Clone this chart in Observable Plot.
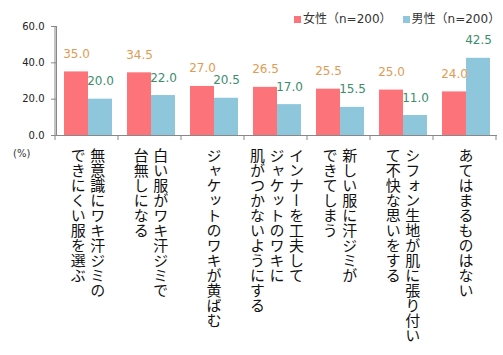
<!DOCTYPE html>
<html><head><meta charset="utf-8">
<script src="https://cdn.jsdelivr.net/npm/d3@7"></script>
<script src="https://cdn.jsdelivr.net/npm/@observablehq/plot@0.6"></script>
<style>
body{margin:0;background:#fff;}
#wrap{position:relative;width:503px;height:355px;font-family:"DejaVu Sans","Noto Sans CJK JP",sans-serif;}
#wrap svg{display:block;}
#legend{position:absolute;left:294px;top:12px;display:flex;align-items:center;font-size:12px;color:#333;white-space:nowrap;line-height:14px;}
#legend .item{display:flex;align-items:center;margin-right:11px;}
#legend .sw{display:inline-block;width:7px;height:7px;margin-right:2px;}
#unit{position:absolute;left:13px;top:148px;font-size:10px;color:#333;}
g[aria-label^="y-axis"] text{fill:#222;}
text.vlabel{writing-mode:vertical-rl;text-orientation:mixed;}
</style></head>
<body><div id="wrap"><div id="legend"></div><div id="unit">(%)</div></div>
<script>
const categoryLines = [
  ["無意識にワキ汗ジミの", "できにくい服を選ぶ"],
  ["白い服がワキ汗ジミで", "台無しになる"],
  ["ジャケットのワキが黄ばむ"],
  ["インナーを工夫して", "ジャケットのワキに", "肌がつかないようにする"],
  ["新しい服に汗ジミが", "できてしまう"],
  ["シフォン生地が肌に張り付い", "て不快な思いをする"],
  ["あてはまるものはない"]
];
const categories = categoryLines.map(l => l.join(""));
const seriesKeys = ["女性", "男性"];
const seriesLabels = ["女性（n=200）", "男性（n=200）"];
const female = [35.0, 34.5, 27.0, 26.5, 25.5, 25.0, 24.0];
const male = [20.0, 22.0, 20.5, 17.0, 15.5, 11.0, 42.5];
const yTicks = [0, 20, 40, 60];
const barColors = ["#fc7479", "#8ec7db"];
const labelColors = ["#df9b52", "#3b8d6d"];

const table = [];
categories.forEach((c, i) => {
  table.push({category: c, series: seriesKeys[0], value: female[i]});
  table.push({category: c, series: seriesKeys[1], value: male[i]});
});

const lineGap = 19.5;
const labelRows = categories.flatMap((c, ci) => categoryLines[ci].map((t, i) => ({
  category: c, text: t, off: ((categoryLines[ci].length - 1) / 2 - i) * lineGap
})));
const labelMarks = d3.groups(labelRows, d => d.off).map(([off, rows]) => Plot.text(rows, {
  fx: "category", text: "text", frameAnchor: "bottom", dx: off, dy: 12,
  textAnchor: "start", fontSize: 15, fill: "#111",
  fontFamily: "'Noto Sans CJK JP', sans-serif", ariaDescription: "category-label"
}));

const valueMark = (k) => Plot.text(table.filter(d => d.series === seriesKeys[k]), {
  fx: "category", x: "series", y: "value", text: d => d.value.toFixed(1),
  fill: labelColors[k], lineAnchor: "bottom", dy: -14, fontSize: 12
});

const plot = Plot.plot({
  width: 503, height: 355,
  marginTop: 26, marginBottom: 220, marginLeft: 55, marginRight: 5,
  style: {fontFamily: "'DejaVu Sans','Noto Sans CJK JP',sans-serif", fontSize: "10px", color: "#888", background: "transparent"},
  fx: {domain: categories, padding: 0, axis: null},
  x: {domain: seriesKeys, paddingInner: 0, paddingOuter: 0.27, axis: null},
  y: {domain: [0, 60], ticks: yTicks, tickFormat: d => d.toFixed(1), tickSize: 5, tickPadding: 7, line: true, label: null},
  color: {domain: seriesKeys, range: barColors},
  marks: [
    Plot.barY(table, {fx: "category", x: "series", y: "value", fill: "series"}),
    Plot.ruleY([0], {stroke: "#888"}),
    valueMark(0),
    valueMark(1),
    ...labelMarks
  ]
});

document.getElementById("wrap").prepend(plot);

// make category labels vertical
const labelSet = new Set(categoryLines.flat());
d3.select(plot).selectAll("text")
  .filter(function() { return labelSet.has(this.textContent); })
  .attr("dy", null)
  .classed("vlabel", true)
  .attr("writing-mode", "tb")
  .style("writing-mode", "vertical-rl");

// y axis line + boundary ticks between categories, from the fx and y scales
const fxs = plot.scale("fx");
const ys = plot.scale("y");
const step = fxs.step ?? (fxs.range[1] - fxs.range[0]) / fxs.domain.length;
const y0 = Math.max(...ys.range), yTop = Math.min(...ys.range);
const g = d3.select(plot).append("g").attr("stroke", "#888");
g.selectAll("line").data(d3.range(categories.length + 1)).join("line")
  .attr("x1", i => fxs.range[0] + i * step).attr("x2", i => fxs.range[0] + i * step)
  .attr("y1", y0).attr("y2", y0 + 5);
g.append("line").attr("x1", fxs.range[0]).attr("x2", fxs.range[0]).attr("y1", yTop).attr("y2", y0);

const legend = d3.select("#legend");
seriesLabels.forEach((s, i) => {
  const it = legend.append("div").attr("class", "item");
  it.append("span").attr("class", "sw").style("background", barColors[i]);
  it.append("span").text(s);
});
</script>
</body></html>
